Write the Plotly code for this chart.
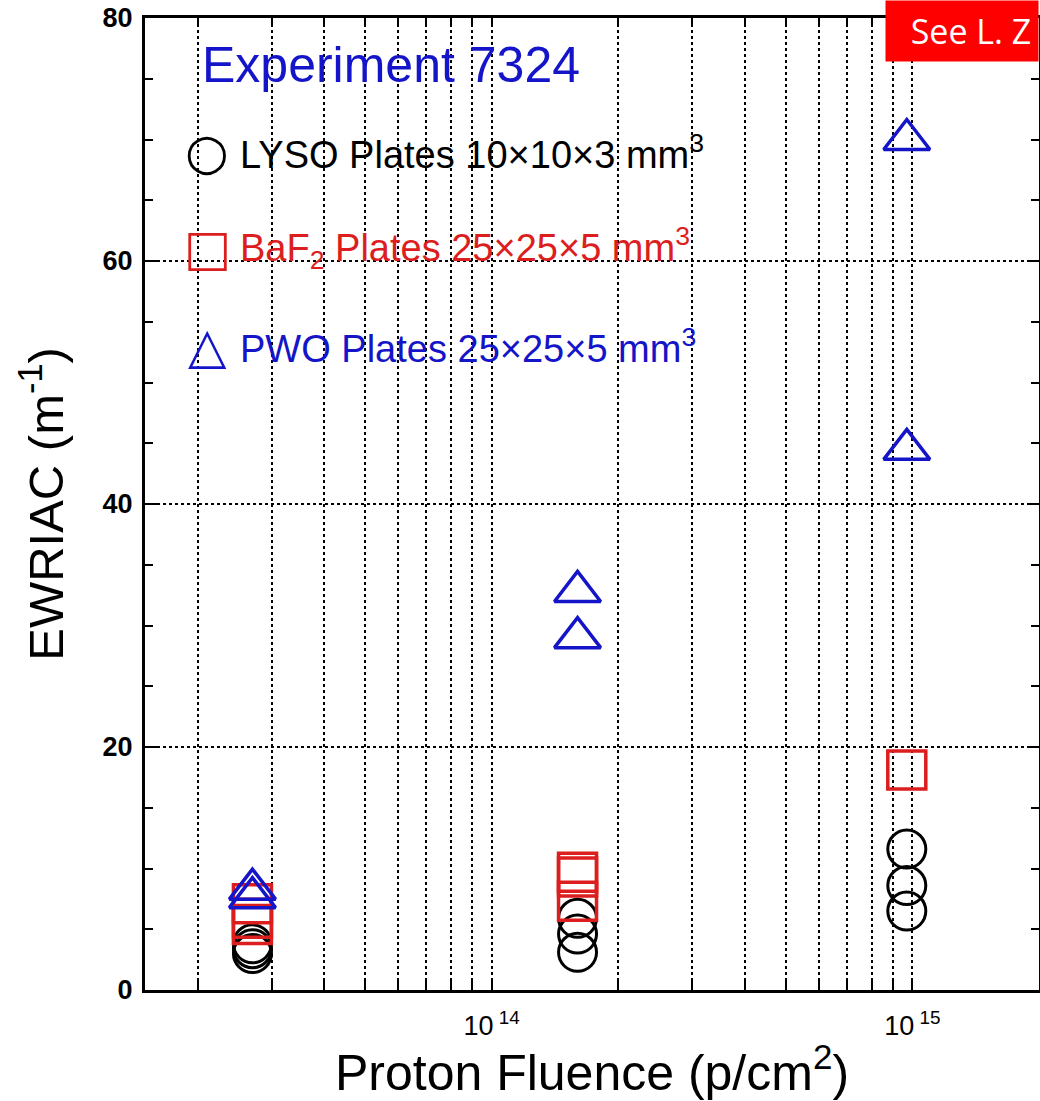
import plotly.graph_objects as go

# ---- data ----
lyso_x = [2.7e13, 2.7e13, 2.7e13, 1.6e14, 1.6e14, 1.6e14, 9.7e14, 9.7e14, 9.7e14]
lyso_y = [3.8, 3.4, 3.0, 5.9, 4.6, 3.1, 11.6, 8.6, 6.5]

baf2_x = [2.7e13, 2.7e13, 2.7e13, 1.6e14, 1.6e14, 1.6e14, 9.7e14]
baf2_y = [7.1, 5.9, 5.4, 9.7, 9.3, 7.3, 18.1]

pwo_x = [2.7e13, 2.7e13, 1.6e14, 1.6e14, 9.7e14, 9.7e14]
pwo_y = [8.3, 7.6, 32.8, 29.0, 70.0, 44.5]

x_major_ticks = [1e14, 1e15]
x_major_text = ["10<sup> 14</sup>", "10<sup> 15</sup>"]
x_minor_ticks = [2e13, 3e13, 4e13, 5e13, 6e13, 7e13, 8e13, 9e13,
                 2e14, 3e14, 4e14, 5e14, 6e14, 7e14, 8e14, 9e14]
y_tickvals = [0, 20, 40, 60, 80]

BLACK = "#000000"
RED = "#dc1e1e"
BLUE = "#1414c8"
FONT = "Liberation Sans, Arial, sans-serif"

fig = go.Figure()
fig.add_trace(go.Scatter(x=lyso_x, y=lyso_y, mode="markers", name="LYSO",
                         marker=dict(symbol="circle-open", size=38, color=BLACK,
                                     line=dict(width=3, color=BLACK))))
fig.add_trace(go.Scatter(x=baf2_x, y=baf2_y, mode="markers", name="BaF2",
                         marker=dict(symbol="square-open", size=38, color=RED,
                                     line=dict(width=3.5, color=RED))))
fig.add_trace(go.Scatter(x=pwo_x, y=pwo_y, mode="markers", name="PWO",
                         marker=dict(symbol="triangle-up-open", size=40, color=BLUE,
                                     line=dict(width=3.5, color=BLUE))))

fig.update_layout(
    width=1040, height=1101,
    margin=dict(l=145, r=1, t=18, b=111),
    paper_bgcolor="white", plot_bgcolor="white",
    showlegend=False,
    font=dict(family=FONT, color=BLACK),
)

grid_style = dict(gridcolor=BLACK, griddash="dot", gridwidth=1.5)

fig.update_xaxes(
    type="log", range=[13.176, 15.301],
    tickmode="array", tickvals=x_major_ticks, ticktext=x_major_text,
    ticks="inside", ticklen=9, tickwidth=2, tickcolor=BLACK,
    minor=dict(tickmode="array", tickvals=x_minor_ticks, ticks="inside", ticklen=9,
               tickwidth=2, tickcolor=BLACK, showgrid=True, **grid_style),
    showgrid=True, **grid_style,
    showline=True, linewidth=3, linecolor=BLACK, mirror="allticks",
    tickfont=dict(size=27, family=FONT, color=BLACK),
    ticklabelstandoff=10,
    title=dict(text="Proton Fluence (p/cm<sup>2</sup>)", font=dict(size=50, family=FONT), standoff=0),
    zeroline=False, automargin=False,
)
fig.update_yaxes(
    range=[0, 80], tickmode="array", tickvals=y_tickvals,
    ticks="inside", ticklen=12, tickwidth=2, tickcolor=BLACK,
    minor=dict(dtick=5, ticks="inside", ticklen=8, tickwidth=2, tickcolor=BLACK, showgrid=False),
    showgrid=True, **grid_style,
    showline=True, linewidth=3, linecolor=BLACK, mirror="allticks",
    tickfont=dict(size=27, family="Liberation Sans, Arial", color=BLACK, weight="bold"),
    ticklabelstandoff=4,
    title=dict(text="EWRIAC (m<sup>-1</sup>)", font=dict(size=49, family=FONT), standoff=24),
    zeroline=False, automargin=False,
)

# in-plot legend block (text)
fig.add_annotation(xref="paper", yref="paper", x=0.0615, y=0.9516, xanchor="left", yanchor="middle",
                   text="Experiment 7324", showarrow=False, font=dict(size=50, color=BLUE, family=FONT))
legend_rows = [
    ("○", "LYSO Plates 10×10×3 mm<sup>3</sup>", BLACK, 0.862),
    ("□", "BaF<sub>2</sub> Plates 25×25×5 mm<sup>3</sup>", RED, 0.763),
    ("△", "PWO Plates 25×25×5 mm<sup>3</sup>", BLUE, 0.6626),
]
for glyph, label, col, ypos in legend_rows:
    fig.add_annotation(xref="paper", yref="paper", x=0.0694, y=ypos, xanchor="center", yanchor="middle",
                       text=glyph, showarrow=False, font=dict(size=50, color=col, family="DejaVu Sans"))
    fig.add_annotation(xref="paper", yref="paper", x=0.104, y=ypos, xanchor="left", yanchor="middle",
                       text=label, showarrow=False, font=dict(size=38, color=col, family=FONT))

# red note box at top right
fig.add_annotation(xref="paper", yref="paper", x=0.8277, y=1.0185, xanchor="left", yanchor="top",
                   text="&nbsp;&nbsp;See L. Z", showarrow=False, bgcolor="#ff0000", borderpad=7,
                   font=dict(size=34, color="white", family="Open Sans, Noto Sans, sans-serif"))

fig.write_html("out.html",
               config={"displayModeBar": False},
               post_script="document.body.style.margin='0';document.body.style.overflow='hidden';")
